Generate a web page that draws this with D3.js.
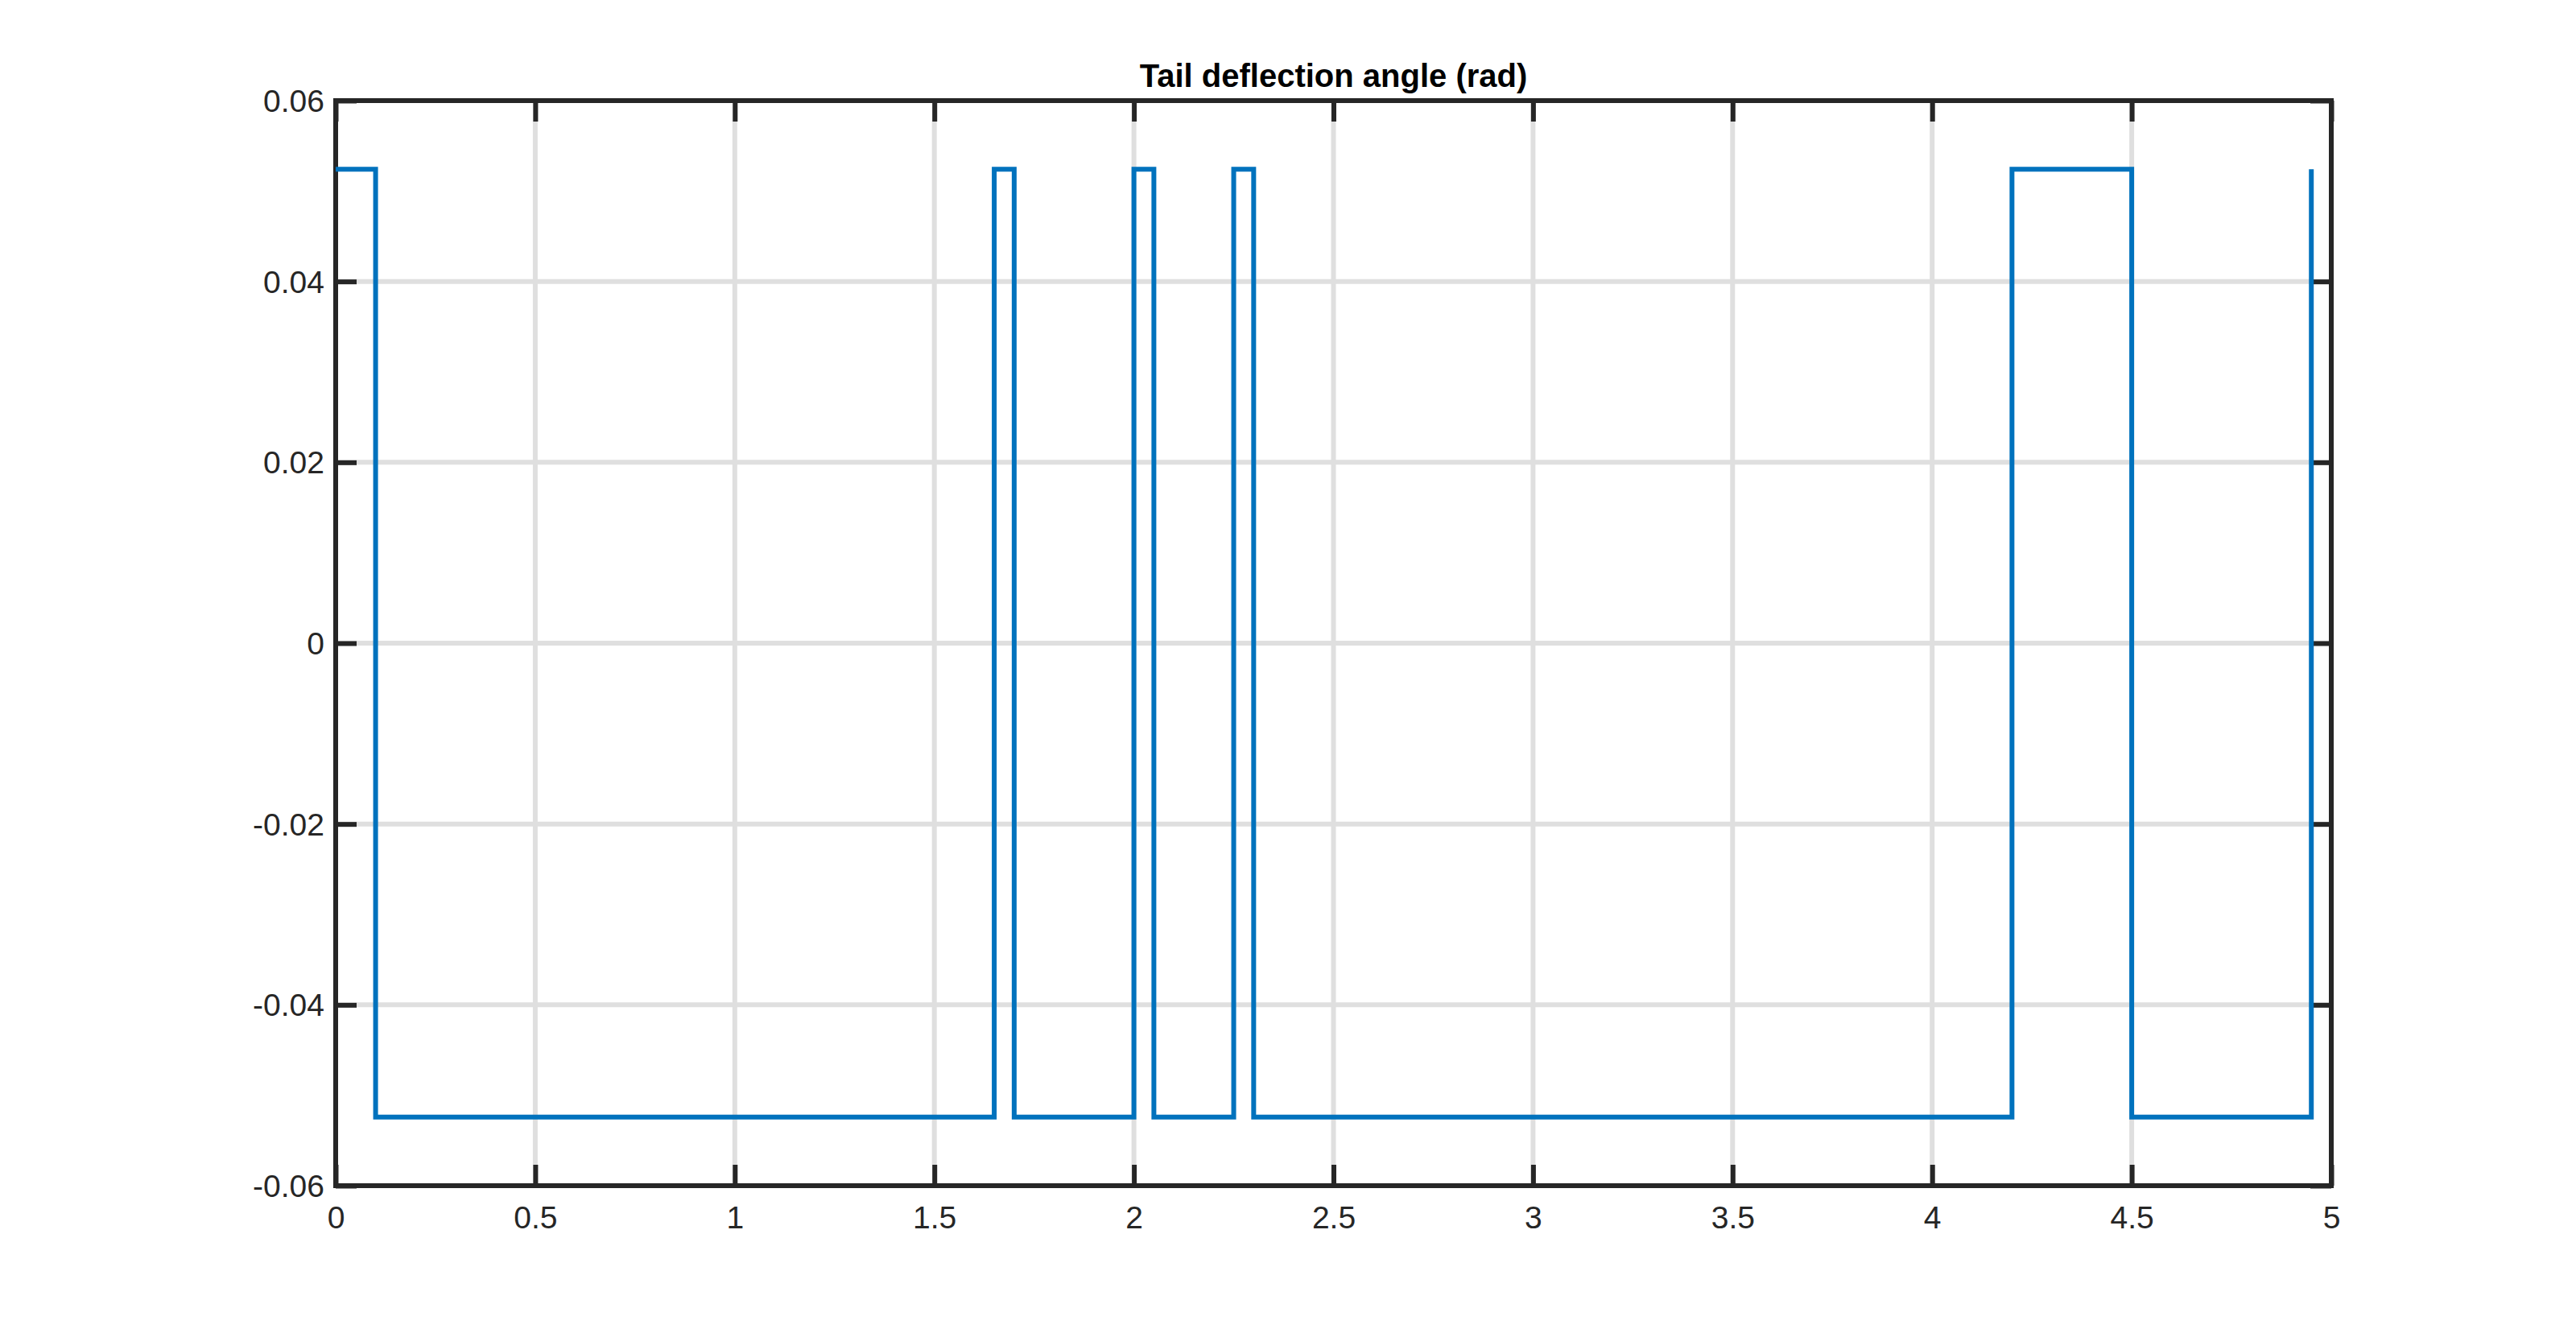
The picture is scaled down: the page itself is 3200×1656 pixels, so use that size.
<!DOCTYPE html>
<html>
<head>
<meta charset="utf-8">
<script src="https://cdn.jsdelivr.net/npm/d3@7"></script>
<style>
  html, body { margin: 0; padding: 0; background: #ffffff; }
  svg { display: block; }
</style>
</head>
<body>
<svg id="chart" width="3200" height="1656"></svg>
<script>
// ---- data ----
const titleText = "Tail deflection angle (rad)";
const switchTimes = [0, 0.1, 1.65, 1.7, 2.0, 2.05, 2.25, 2.3, 4.2, 4.5, 4.95];
const deflection = [0.0524, -0.0524, 0.0524, -0.0524, 0.0524, -0.0524, 0.0524, -0.0524, 0.0524, -0.0524, 0.0524];
const xTicks = [0, 0.5, 1, 1.5, 2, 2.5, 3, 3.5, 4, 4.5, 5];
const yTicks = [-0.06, -0.04, -0.02, 0, 0.02, 0.04, 0.06];
const xTickLabels = ["0", "0.5", "1", "1.5", "2", "2.5", "3", "3.5", "4", "4.5", "5"];
const yTickLabels = ["-0.06", "-0.04", "-0.02", "0", "0.02", "0.04", "0.06"];

(function () {
// ---- layout ----
const pLeft = 417, pRight = 2896, pTop = 125, pBottom = 1473;
const axisColor = "#262626";
const gridColor = "#dfdfdf";
const lineColor = "#0072BD";
const fontFamily = "'Liberation Sans', Arial, Helvetica, sans-serif";

const svg = d3.select("#chart");
svg.append("rect").attr("width", 3200).attr("height", 1656).attr("fill", "#ffffff");

const x = d3.scaleLinear().domain([0, 5]).range([pLeft, pRight]);
const y = d3.scaleLinear().domain([-0.06, 0.06]).range([pBottom, pTop]);

// grid
const grid = svg.append("g");
grid.selectAll("line.gx").data(xTicks.slice(1, -1)).enter().append("line")
  .attr("x1", d => x(d)).attr("x2", d => x(d))
  .attr("y1", pTop).attr("y2", pBottom)
  .attr("stroke", gridColor).attr("stroke-width", 6);
grid.selectAll("line.gy").data(yTicks.slice(1, -1)).enter().append("line")
  .attr("x1", pLeft).attr("x2", pRight)
  .attr("y1", d => y(d)).attr("y2", d => y(d))
  .attr("stroke", gridColor).attr("stroke-width", 6);

// axes (ticks inside, on all four sides)
const tickLen = 26;
function styleAxis(g) {
  g.select(".domain").remove();
  g.selectAll(".tick line").attr("stroke", axisColor).attr("stroke-width", 6);
  g.selectAll(".tick text").attr("fill", axisColor)
    .attr("font-family", fontFamily).attr("font-size", 39);
}
const xb = svg.append("g").attr("transform", `translate(0,${pBottom})`)
  .call(d3.axisBottom(x).tickValues(xTicks).tickSizeInner(-tickLen).tickSizeOuter(0)
    .tickPadding(28).tickFormat((d, i) => xTickLabels[i]));
styleAxis(xb);
xb.selectAll(".tick text").attr("dy", null).attr("y", 53);

const xt = svg.append("g").attr("transform", `translate(0,${pTop})`)
  .call(d3.axisTop(x).tickValues(xTicks).tickSizeInner(-tickLen).tickSizeOuter(0).tickFormat(""));
styleAxis(xt);

const yl = svg.append("g").attr("transform", `translate(${pLeft},0)`)
  .call(d3.axisLeft(y).tickValues(yTicks).tickSizeInner(-tickLen).tickSizeOuter(0)
    .tickFormat((d, i) => yTickLabels[i]));
styleAxis(yl);
yl.selectAll(".tick text").attr("x", -14).attr("dy", "0.35em");

const yr = svg.append("g").attr("transform", `translate(${pRight},0)`)
  .call(d3.axisRight(y).tickValues(yTicks).tickSizeInner(-tickLen).tickSizeOuter(0).tickFormat(""));
styleAxis(yr);

// frame
svg.append("rect")
  .attr("x", pLeft).attr("y", pTop)
  .attr("width", pRight - pLeft).attr("height", pBottom - pTop)
  .attr("fill", "none").attr("stroke", axisColor).attr("stroke-width", 6)
  .attr("stroke-linejoin", "miter");

// data line (stairs)
const pts = switchTimes.map((t, i) => [t, deflection[i]]);
const line = d3.line().x(d => x(d[0])).y(d => y(d[1])).curve(d3.curveStepAfter);
svg.append("path")
  .attr("d", line(pts))
  .attr("fill", "none").attr("stroke", lineColor).attr("stroke-width", 6)
  .attr("stroke-linejoin", "miter").attr("stroke-linecap", "butt");

// title
svg.append("text")
  .attr("x", (pLeft + pRight) / 2).attr("y", 108)
  .attr("text-anchor", "middle")
  .attr("font-family", fontFamily).attr("font-weight", "bold").attr("font-size", 40)
  .attr("fill", "#000000")
  .text(titleText);
})();
</script>
</body>
</html>
